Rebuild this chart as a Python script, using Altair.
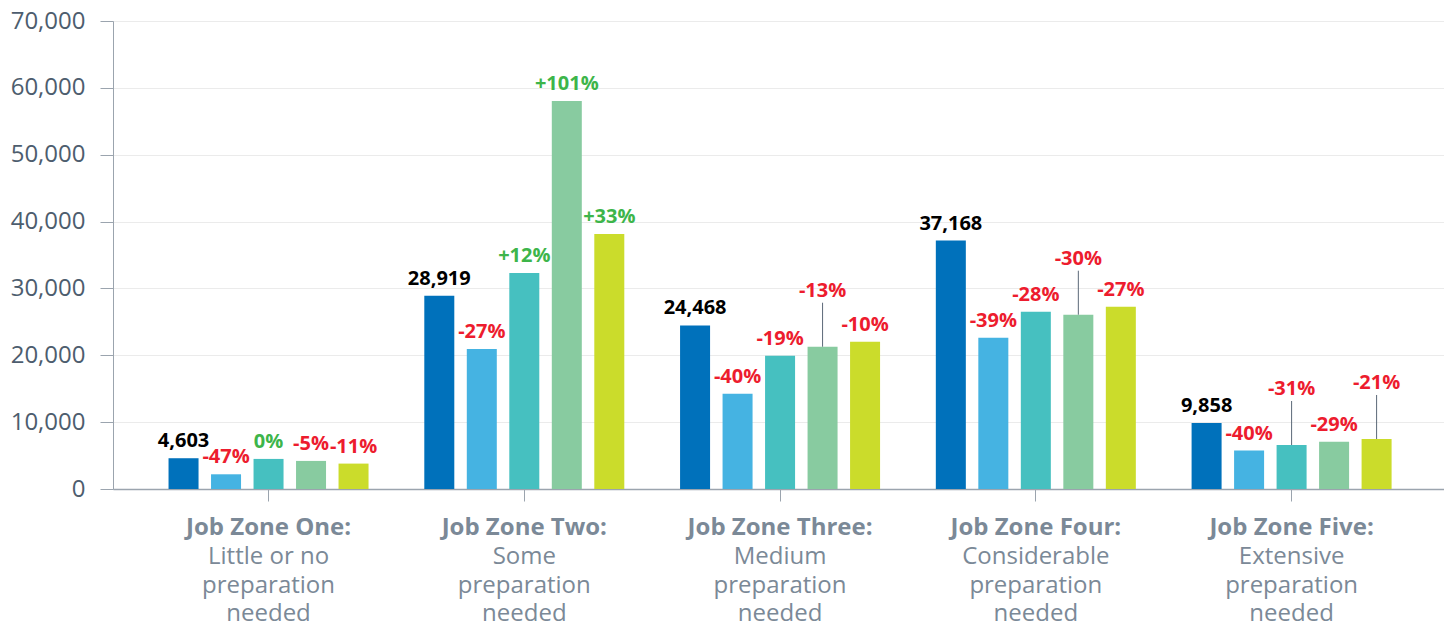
import altair as alt
import pandas as pd

ZONES = ["Job Zone One:", "Job Zone Two:", "Job Zone Three:", "Job Zone Four:", "Job Zone Five:"]
ZONE_DESC = [
    "Little or no\npreparation\nneeded",
    "Some\npreparation\nneeded",
    "Medium\npreparation\nneeded",
    "Considerable\npreparation\nneeded",
    "Extensive\npreparation\nneeded",
]
SERIES = ["S1", "S2", "S3", "S4", "S5"]
SERIES_COLORS = ["#0071bb", "#45b3e2", "#46c0c0", "#88cba0", "#cbdc2b"]

VALUES = [
    [4603, 2200, 4500, 4200, 3800],
    [28919, 20940, 32300, 58030, 38140],
    [24468, 14250, 19940, 21280, 22030],
    [37168, 22630, 26520, 26070, 27270],
    [9858, 5740, 6580, 7070, 7480],
]
LABELS = [
    ["4,603", "-47%", "0%", "-5%", "-11%"],
    ["28,919", "-27%", "+12%", "+101%", "+33%"],
    ["24,468", "-40%", "-19%", "-13%", "-10%"],
    ["37,168", "-39%", "-28%", "-30%", "-27%"],
    ["9,858", "-40%", "-31%", "-29%", "-21%"],
]
# (zone index, series index) of labels lifted with a leader line
LEADERS = [(2, 3), (3, 3), (4, 2), (4, 4)]

rows = []
for zi, z in enumerate(ZONES):
    for si, s in enumerate(SERIES):
        lab = LABELS[zi][si]
        tone = "base" if si == 0 else ("down" if lab.startswith("-") else "up")
        rows.append(dict(zone=z, series=s, value=VALUES[zi][si], label=lab,
                         tone=tone, leader=(zi, si) in LEADERS))
df = pd.DataFrame(rows)

desc_lines = [d.split("\n") for d in ZONE_DESC]
cat_df = pd.DataFrame({
    "zone": ZONES,
    "l1": [d[0] for d in desc_lines],
    "l2": [d[1] for d in desc_lines],
    "l3": [d[2] for d in desc_lines],
})

FONT = "Open Sans"
AXIS_GRAY = "#9ba4ae"
CAT_GRAY = "#7b8997"

x_enc = alt.X("zone:N", sort=ZONES,
              scale=alt.Scale(domain=ZONES, paddingInner=0, paddingOuter=0.102, align=0.53),
              axis=alt.Axis(labels=False, title=None, ticks=True, tickSize=12,
                            tickColor=AXIS_GRAY, domainColor=AXIS_GRAY,
                            domainWidth=1.5, grid=False))
xo_enc = alt.XOffset("series:N", sort=SERIES,
                     scale=alt.Scale(domain=SERIES, paddingInner=0.294, paddingOuter=0.656))
y_enc = alt.Y("value:Q",
              scale=alt.Scale(domain=[0, 70000], nice=False),
              axis=alt.Axis(values=list(range(0, 70001, 10000)), format=",d",
                            title=None, labelFont=FONT, labelFontSize=24,
                            labelColor="#4d5d6e", labelPadding=15, tickSize=13,
                            tickColor=AXIS_GRAY, domainColor=AXIS_GRAY,
                            gridColor="#ebebeb", gridWidth=1))

base = alt.Chart(df)

bars = base.mark_bar().encode(
    x=x_enc, xOffset=xo_enc, y=y_enc,
    color=alt.Color("series:N", sort=SERIES,
                    scale=alt.Scale(domain=SERIES, range=SERIES_COLORS), legend=None),
)

tone_scale = alt.Scale(domain=["base", "down", "up"], range=["#000000", "#ed1c2e", "#3db54a"])

labels_normal = base.transform_filter("!datum.leader").mark_text(
    dy=-11, baseline="alphabetic", font=FONT, fontSize=20, fontWeight="bold"
).encode(
    x=x_enc, xOffset=xo_enc, y=y_enc, text="label:N",
    fill=alt.Fill("tone:N", scale=tone_scale, legend=None),
)

labels_lifted = base.transform_filter("datum.leader").mark_text(
    dy=-50, baseline="alphabetic", font=FONT, fontSize=20, fontWeight="bold"
).encode(
    x=x_enc, xOffset=xo_enc, y=y_enc, text="label:N",
    fill=alt.Fill("tone:N", scale=tone_scale, legend=None),
)

leaders = base.transform_filter("datum.leader").mark_rule(
    color="#5b6878", strokeWidth=1, y2Offset=-44
).encode(
    x=x_enc, xOffset=xo_enc, y=y_enc, y2="value"
)

cat_chart = alt.Chart(cat_df)
cat_bold = cat_chart.mark_text(
    baseline="alphabetic", font=FONT, fontSize=24, fontWeight="bold", color=CAT_GRAY
).encode(x=x_enc, y=alt.value(514), text="zone:N")

cat_layers = [cat_bold]
for i, col in enumerate(["l1", "l2", "l3"]):
    cat_layers.append(cat_chart.mark_text(
        baseline="alphabetic", font=FONT, fontSize=24, color=CAT_GRAY
    ).encode(x=x_enc, y=alt.value(543 + 28.5 * i), text=f"{col}:N"))

chart = alt.layer(bars, leaders, labels_normal, labels_lifted, *cat_layers).properties(
    width=1331, height=468,
    autosize=alt.AutoSizeParams(type="none"),
    padding={"left": 105, "top": 13, "right": 0, "bottom": 133},
).configure_view(stroke=None).configure(background="white")

chart.save("out.html", embed_options={"renderer": "svg", "actions": False})
